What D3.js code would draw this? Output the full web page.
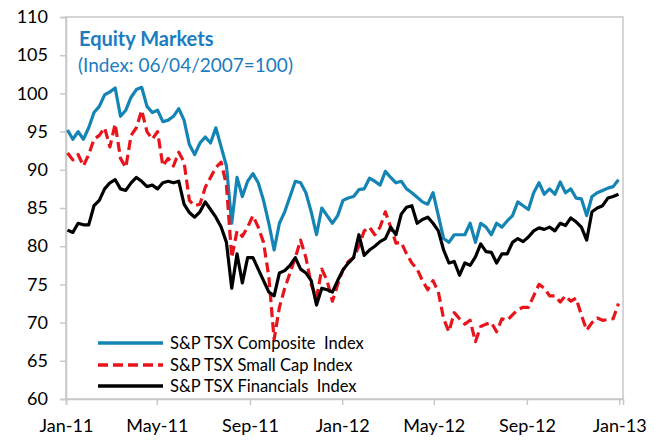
<!DOCTYPE html>
<html>
<head>
<meta charset="utf-8">
<script src="https://cdn.jsdelivr.net/npm/d3@7"></script>
<style>
  body { margin: 0; background: #fff; }
  svg { display: block; }
  text { font-family: Lato, "Open Sans", sans-serif; }
</style>
</head>
<body>
<svg id="chart"></svg>
<script>

// weekly closes (mondays) starting Jan 3 2011
var startDate = "2011-01-03";

var composite = [
  95.2, 94.0, 95.0, 94.0, 95.5, 97.5, 98.3, 99.8, 100.2, 100.7,
  97.0, 97.8, 99.5, 100.5, 100.8, 98.3, 97.5, 97.8, 96.3, 96.5,
  97.0, 98.0, 96.5, 93.3, 92.0, 93.5, 94.3, 93.5, 95.5, 93.0,
  90.5, 83.0, 89.0, 86.5, 88.5, 89.5, 88.3, 86.0, 83.0, 79.5,
  83.0, 84.5, 86.5, 88.5, 88.3, 87.0, 84.5, 81.5, 85.0, 84.0,
  83.0, 84.0, 86.0, 86.3, 86.5, 87.4, 87.5, 88.9, 88.5, 88.0,
  89.8, 89.0, 88.3, 88.5, 87.5, 87.0, 86.4, 85.8, 85.5, 87.0,
  84.0, 81.0, 80.5, 81.5, 81.5, 81.5, 83.0, 80.5, 83.0, 82.5,
  81.5, 83.0, 82.5, 83.3, 84.0, 85.8, 85.3, 84.8, 87.0, 88.3,
  86.8, 87.5, 86.8, 88.4, 87.0, 87.5, 86.3, 86.2, 84.0, 86.5,
  87.0, 87.3, 87.6, 87.8, 88.7
];

var smallCap = [
  92.2, 91.3, 92.0, 90.5, 92.0, 94.0, 94.5, 95.5, 93.0, 96.0,
  91.5, 90.3, 94.5, 95.5, 97.8, 95.0, 94.0, 95.0, 90.5, 91.5,
  90.5, 92.3, 91.0, 86.0, 85.3, 85.5, 87.7, 89.0, 90.3, 91.0,
  88.0, 78.5, 82.0, 81.3, 82.5, 84.0, 82.5, 80.5, 76.0, 67.8,
  72.0, 74.5, 76.5, 78.5, 80.8, 78.5, 75.0, 73.2, 77.0, 75.5,
  72.8, 75.0, 76.9, 78.0, 78.5, 80.0, 82.0, 82.5, 81.5, 82.5,
  84.5, 82.5, 80.4, 80.5, 79.0, 77.8, 77.0, 75.5, 74.3, 75.5,
  74.0, 70.5, 68.8, 71.3, 70.5, 69.8, 70.3, 67.5, 69.5, 69.8,
  70.0, 68.8, 70.5, 70.3, 71.0, 71.7, 72.0, 72.0, 73.5, 75.0,
  74.5, 73.5, 73.5, 72.7, 73.5, 72.8, 73.2, 71.0, 69.0, 70.0,
  70.6, 70.3, 70.4, 70.5, 72.5
];

var financials = [
  82.1, 81.8, 83.0, 82.8, 82.8, 85.3, 86.0, 87.5, 88.3, 88.7,
  87.5, 87.3, 88.3, 89.0, 88.5, 87.8, 88.0, 87.5, 88.3, 88.5,
  88.3, 88.5, 85.5, 84.4, 83.8, 84.5, 85.8, 84.8, 83.8, 82.5,
  80.5, 74.5, 79.0, 75.2, 78.5, 78.5, 77.0, 75.5, 74.0, 73.5,
  76.5, 76.8, 77.5, 78.5, 77.0, 76.5, 75.5, 72.3, 74.5, 74.3,
  74.0, 75.5, 76.9, 77.8, 78.5, 81.5, 78.8, 79.5, 80.0, 80.6,
  81.0, 82.5, 81.5, 84.2, 85.1, 85.3, 83.0, 83.5, 83.8, 83.0,
  82.0, 79.5, 77.8, 78.0, 76.2, 77.8, 77.5, 78.6, 80.3, 79.3,
  79.2, 77.8, 79.0, 79.0, 80.5, 81.0, 80.6, 81.2, 82.0, 82.4,
  82.2, 82.5, 82.0, 83.0, 82.7, 83.7, 83.2, 82.5, 80.8, 84.5,
  85.0, 85.3, 86.3, 86.5, 86.8
];

var seriesNames = ["S&P TSX Composite  Index", "S&P TSX Small Cap Index", "S&P TSX Financials  Index"];
var yTicks = [60, 65, 70, 75, 80, 85, 90, 95, 100, 105, 110];
var xTicks = ["2011-01-01", "2011-05-01", "2011-09-01", "2012-01-01", "2012-05-01", "2012-09-01", "2013-01-01"];


var width = 667;
var height = 445;
var plotLeft = 66, plotRight = 623, plotTop = 17, plotBottom = 399;

var svg = d3.select("#chart");
svg.attr("width", width);
svg.attr("height", height);

var parse = d3.timeParse("%Y-%m-%d");
var fmt = d3.timeFormat("%b-%y");

var x = d3.scaleTime()
  .domain([parse("2011-01-01"), parse("2013-01-06")])
  .range([plotLeft, plotRight]);

var y = d3.scaleLinear()
  .domain([60, 110])
  .range([plotBottom, plotTop]);

var start = parse(startDate);
function toPoints(values) {
  return values.map(function (v, i) {
    return { date: d3.timeDay.offset(start, i * 7), value: v };
  });
}

// frame
var frame = svg.append("rect");
frame.attr("x", plotLeft);
frame.attr("y", plotTop);
frame.attr("width", plotRight - plotLeft);
frame.attr("height", plotBottom - plotTop);
frame.attr("fill", "none");
frame.attr("stroke", "#c8c8c8");
frame.attr("stroke-width", 1.5);

// y axis
var yAxis = svg.append("g")
  .attr("transform", "translate(" + plotLeft + ",0)")
  .call(d3.axisLeft(y).tickValues(yTicks).tickSize(6).tickPadding(12));
yAxis.select(".domain").attr("stroke", "#c8c8c8").attr("stroke-width", 1.5);
yAxis.selectAll(".tick line").attr("stroke", "#c8c8c8").attr("stroke-width", 1.5);
yAxis.selectAll("text")
  .attr("font-size", "18px")
  .attr("fill", "#000")
  .style("font-family", "Lato, sans-serif");

// x axis
var xAxis = svg.append("g")
  .attr("transform", "translate(0," + plotBottom + ")")
  .call(d3.axisBottom(x).tickValues(xTicks.map(parse)).tickFormat(fmt).tickSize(6).tickPadding(14));
xAxis.select(".domain").attr("stroke", "#c8c8c8").attr("stroke-width", 1.5);
xAxis.selectAll(".tick line").attr("stroke", "#c8c8c8").attr("stroke-width", 1.5);
xAxis.selectAll("text")
  .attr("font-size", "18px")
  .attr("fill", "#000")
  .style("font-family", "Lato, sans-serif");

// lines
var line = d3.line()
  .x(function (d) { return x(d.date); })
  .y(function (d) { return y(d.value); });

var styles = [
  { color: "#1384b4", dash: null },
  { color: "#e8141b", dash: "10,5" },
  { color: "#000000", dash: null }
];
var allSeries = [composite, smallCap, financials];

for (var i = 0; i < allSeries.length; i += 1) {
  var path = svg.append("path");
  path.attr("d", line(toPoints(allSeries[i])));
  path.attr("fill", "none");
  path.attr("stroke", styles[i].color);
  path.attr("stroke-width", 3.2);
  path.attr("stroke-linejoin", "round");
  if (styles[i].dash) path.attr("stroke-dasharray", styles[i].dash);
}

// title
var title = svg.append("text");
title.attr("x", 79);
title.attr("y", 46);
title.attr("font-size", "20px");
title.attr("font-weight", "bold");
title.attr("fill", "#1b7cc0");
title.text("Equity Markets");

var sub = svg.append("text");
sub.attr("x", 78);
sub.attr("y", 72);
sub.attr("font-size", "19px");
sub.attr("fill", "#1b7cc0");
sub.text("(Index: 06/04/2007=100)");

// legend
var legendY = [343, 365, 386];
for (var i = 0; i < seriesNames.length; i += 1) {
  var l = svg.append("line");
  l.attr("x1", 98);
  l.attr("x2", 163);
  l.attr("y1", legendY[i]);
  l.attr("y2", legendY[i]);
  l.attr("stroke", styles[i].color);
  l.attr("stroke-width", 3.5);
  if (styles[i].dash) l.attr("stroke-dasharray", styles[i].dash);

  var t = svg.append("text");
  t.attr("x", 170);
  t.attr("y", legendY[i] + 6);
  t.attr("font-size", "16.5px");
  t.attr("fill", "#000");
  t.style("white-space", "pre");
  t.text(seriesNames[i]);
}

</script>
</body>
</html>
